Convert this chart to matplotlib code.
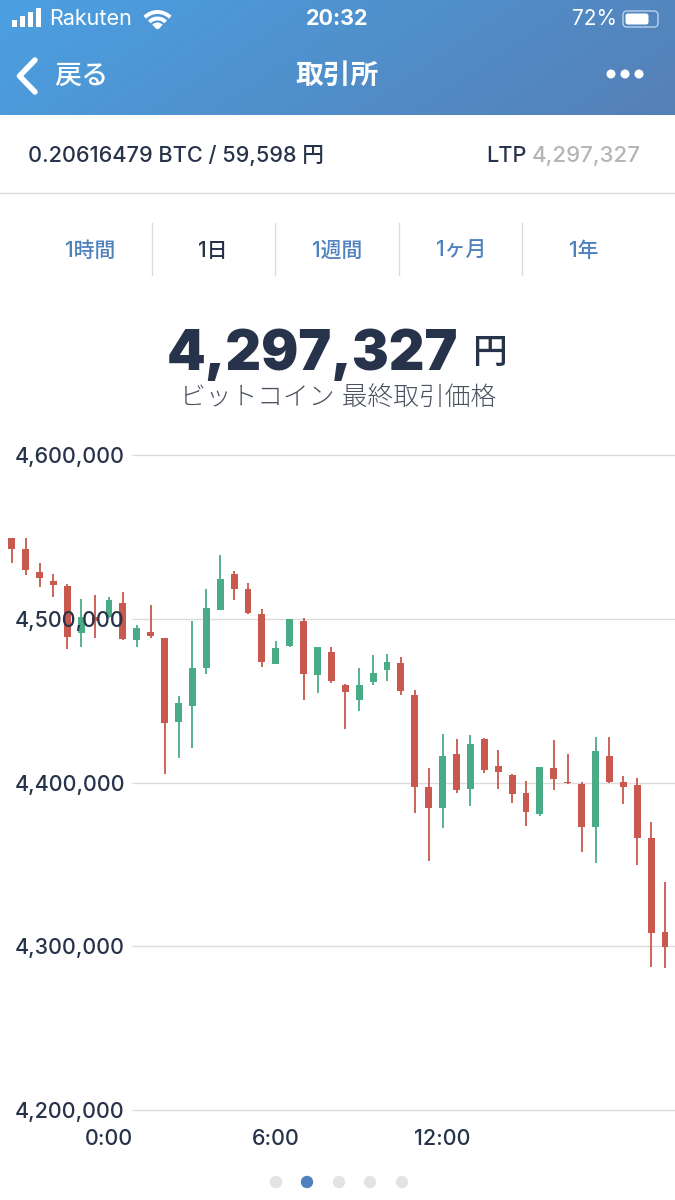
import matplotlib
matplotlib.use("Agg")
import matplotlib.pyplot as plt
import numpy as np
from matplotlib.patches import Rectangle, FancyBboxPatch, Arc, Circle

plt.rcParams['font.family'] = ['Inter', 'Noto Sans CJK JP', 'DejaVu Sans']

# 30 minute candles
opens = [4549100, 4542400, 4528500, 4522800, 4520200, 4491500, 4500900, 4501100,
         4509600, 4487000, 4492100, 4488200, 4437100, 4446900, 4470100, 4505500,
         4527300, 4518400, 4503100, 4472400, 4483400, 4498600, 4465400, 4479500,
         4459700, 4450200, 4461600, 4468700, 4473000, 4453600, 4397200, 4384200,
         4417200, 4395800, 4426700, 4409900, 4404800, 4393400, 4380700, 4408600,
         4400300, 4399300, 4372600, 4416400, 4400300, 4398200, 4366100, 4308500]
highs = [4549100, 4549100, 4533800, 4527100, 4521000, 4511900, 4514700, 4513500,
         4516300, 4496400, 4508600, 4488200, 4453000, 4498600, 4518400, 4538700,
         4529400, 4521600, 4505700, 4486600, 4500000, 4500700, 4482700, 4482500,
         4460100, 4470100, 4477800, 4478200, 4476400, 4456300, 4408600, 4429400,
         4426300, 4428800, 4427000, 4420000, 4405000, 4400700, 4409600, 4425700,
         4417200, 4400100, 4427800, 4427800, 4403700, 4402500, 4376100, 4339200]
lows = [4533800, 4526500, 4519200, 4513300, 4481300, 4482500, 4488000, 4500300,
        4486800, 4482500, 4488000, 4405200, 4415000, 4421100, 4466100, 4505500,
        4511600, 4502900, 4470500, 4472200, 4482900, 4450200, 4454400, 4460600,
        4432400, 4443400, 4459500, 4462200, 4453600, 4381600, 4352200, 4372000,
        4393800, 4385800, 4405600, 4396200, 4387500, 4373600, 4379500, 4395200,
        4399300, 4357300, 4350600, 4399500, 4387100, 4349400, 4287500, 4286900]
closes = [4542400, 4529800, 4524900, 4520400, 4489100, 4501300, 4498800, 4511400,
          4487400, 4494100, 4489500, 4436500, 4448500, 4470100, 4506400, 4524100,
          4518400, 4503300, 4473800, 4481900, 4499800, 4466100, 4482700, 4462000,
          4455400, 4459700, 4466800, 4473400, 4455700, 4397400, 4384600, 4416400,
          4395600, 4423500, 4407800, 4406600, 4393000, 4382000, 4409400, 4402300,
          4399500, 4372600, 4419200, 4400500, 4397200, 4366100, 4308300, 4299700]
price_ticks = [4600000, 4500000, 4400000, 4300000, 4200000]
time_ticks = [7, 19, 31]
time_labels = ['0:00', '6:00', '12:00']
tab_labels = ['1時間', '1日', '1週間', '1ヶ月', '1年']

NAVY = '#27334a'
BLUE = '#4f81bd'
RED = '#c9584e'
GREEN = '#4aab87'
GRID = '#dcdcdc'

fig = plt.figure(figsize=(6.75, 12), dpi=100, facecolor='white')

# whole page in pixel coordinates for the app screen around the chart
ui = fig.add_axes([0, 0, 1, 1])
ui.axis('off')

gx, gy = np.meshgrid(np.linspace(0, 1, 200), np.linspace(0, 1, 40))
ui.imshow(gx + 0.25 * gy, extent=[0, 675, 115, 0], aspect='auto', vmin=0, vmax=1.25,
          cmap=matplotlib.colors.LinearSegmentedColormap.from_list('hdr', ['#4ba0e2', '#5580b6']))
ui.set_xlim(0, 675)
ui.set_ylim(1200, 0)

# status bar
for bx, bh in zip([12, 20, 28, 36], [7, 11, 15, 19]):
    ui.add_patch(Rectangle((bx, 27 - bh), 5, bh, color='white', lw=0))
ui.text(49, 19, 'Rakuten', color='white', fontsize=15.5, va='center', ha='left')
for d in [36, 23, 11]:
    ui.add_patch(Arc((157.5, 30), d, d, theta1=225, theta2=315, color='white', lw=2.8))
ui.add_patch(Circle((157.5, 26.5), 2.6, color='white', lw=0))
ui.text(337, 19, '20:32', color='white', fontsize=15.5, fontweight='bold', va='center', ha='center')
ui.text(617, 19, '72%', color='white', fontsize=15, va='center', ha='right')
ui.add_patch(FancyBboxPatch((623, 11), 35, 16, boxstyle='round,pad=0,rounding_size=4',
                            fc='none', ec='#b9d3ee', lw=1))
ui.add_patch(FancyBboxPatch((625.5, 13.5), 23, 11, boxstyle='round,pad=0,rounding_size=2.5',
                            fc='white', ec='none'))
ui.plot([35, 19.5, 35], [60, 76, 92], color='white', lw=4, solid_capstyle='round', solid_joinstyle='round')
ui.text(54, 77, '戻る', color='white', fontsize=19.5, fontweight='medium', va='center', ha='left')
ui.text(337, 77, '取引所', color='white', fontsize=20, fontweight='bold', va='center', ha='center')
for dx in [611, 625, 639]:
    ui.add_patch(Circle((dx, 74), 4.5, color='white', lw=0))

# balance line
ui.text(28, 156, '0.20616479 BTC / 59,598 円', color=NAVY, fontsize=15.6, fontweight='medium',
        va='center', ha='left')
ui.text(527, 156, 'LTP', color=NAVY, fontsize=15.6, fontweight='medium', va='center', ha='right')
ui.text(641, 156, '4,297,327', color='#b5b5b5', fontsize=16, fontweight='medium', va='center', ha='right')
ui.plot([0, 675], [193, 193], color=GRID, lw=1)

# range tabs
for i, (tx, lab) in enumerate(zip([90, 213, 337, 461, 584], tab_labels)):
    ui.text(tx, 251, lab, color=NAVY if i == 1 else BLUE, fontsize=15, fontweight='medium',
            va='center', ha='center')
for dx in [152, 275, 399, 522]:
    ui.plot([dx, dx], [223, 275], color=GRID, lw=1)

# last price
ui.text(458, 355, '4,297,327', color=NAVY, fontsize=39.8, fontweight='black', va='center', ha='right')
ui.text(472, 354, '円', color=NAVY, fontsize=25, fontweight='medium', va='center', ha='left')
ui.text(338, 398, 'ビットコイン 最終取引価格', color='#4a5160', fontsize=18.5, fontweight='light',
        va='center', ha='center')

# pager
for dx, c in zip([276, 307, 339, 370, 402], ['#e3e3e3', BLUE, '#e3e3e3', '#e3e3e3', '#e3e3e3']):
    ui.add_patch(Circle((dx, 1182), 6.2, color=c, lw=0))

# chart axes span the full width so candles can run under the price labels
step = 13.9
x0 = 11.7
top_px, bot_px = 440, 1115
px_per_yen = 163.75 / 100000
ax = fig.add_axes([0, 1 - bot_px / 1200, 1, (bot_px - top_px) / 1200])
ax.patch.set_visible(False)
ax.set_xlim(-x0 / step, (675 - x0) / step)
ax.set_ylim(4600000 - (bot_px - 455) / px_per_yen, 4600000 + (455 - top_px) / px_per_yen)
for s in ax.spines.values():
    s.set_visible(False)

ax.hlines(price_ticks, (132 - x0) / step, (675 - x0) / step, color=GRID, lw=1, zorder=1)

xs = np.arange(len(opens))
colors = [GREEN if c > o else RED for o, c in zip(opens, closes)]
ax.vlines(xs, lows, highs, color=colors, lw=1.3, zorder=2)
ax.bar(xs, np.abs(np.array(closes) - np.array(opens)), bottom=np.minimum(opens, closes),
       width=0.5, color=colors, zorder=2)

ax.set_axisbelow(False)
ax.set_yticks(price_ticks)
ax.set_yticklabels([f'{p:,}' for p in price_ticks], color=NAVY, fontsize=15.5, fontweight='medium')
ax.tick_params(axis='y', length=0, pad=-90)
ax.set_xticks(time_ticks)
ax.set_xticklabels(time_labels, color=NAVY, fontsize=15.5, fontweight='medium')
ax.tick_params(axis='x', length=0, pad=10)

fig.savefig('out.png', dpi=100)
